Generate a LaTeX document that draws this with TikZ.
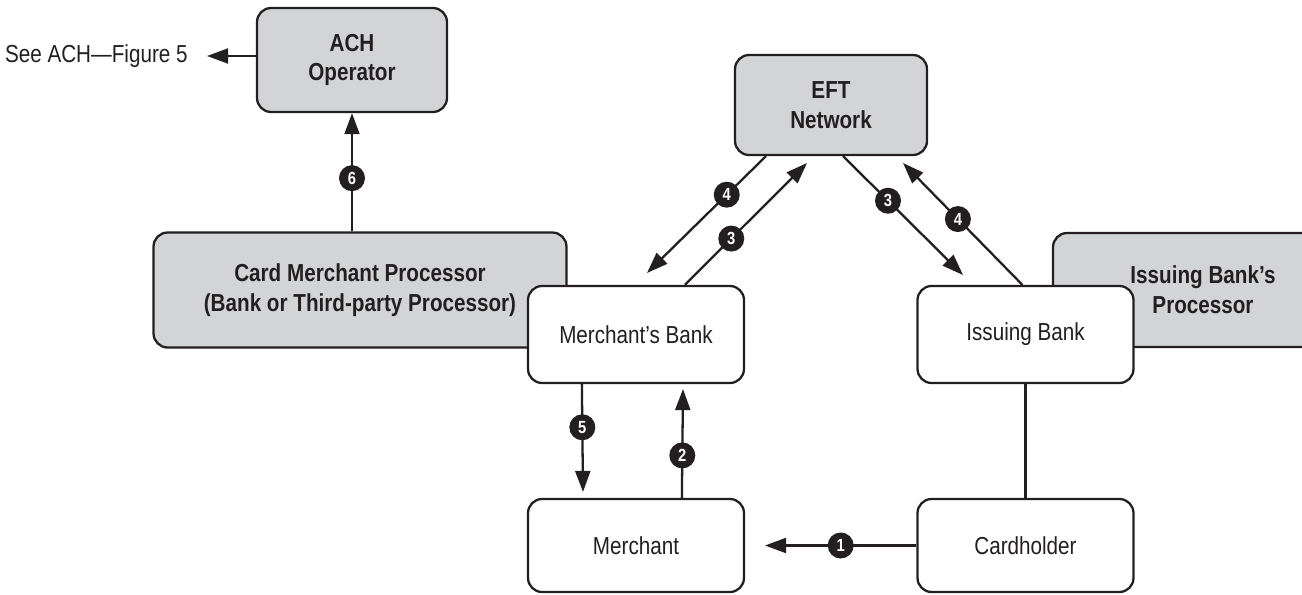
\documentclass[tikz,border=0pt]{standalone}
\usepackage{fontspec}
\setmainfont{Liberation Sans}[FakeStretch=0.84]
\usetikzlibrary{positioning,arrows.meta,calc}
\definecolor{cBox}{HTML}{D3D4D6}
\definecolor{cInk}{HTML}{231F20}
\tikzset{
  base/.style  ={rounded corners=8pt, draw=cInk, line width=1.3pt, align=center,
                 text=cInk, font=\fontsize{14}{17}\selectfont, inner sep=4pt},
  gnode/.style ={base, fill=cBox, font=\fontsize{14}{17}\selectfont\bfseries},
  wnode/.style ={base, fill=white, minimum width=4.32cm},
  badge/.style ={circle, fill=cInk, text=white, inner sep=0pt, minimum size=5.2mm,
                 font=\fontsize{10}{10}\selectfont\bfseries},
  arr/.style   ={-{Triangle[length=12pt,width=8.5pt]}, line width=1.3pt, draw=cInk},
  link/.style  ={line width=1.3pt, draw=cInk},
}

\begin{document}
\begin{tikzpicture}[x=0.02cm, y=-0.02cm]
\useasboundingbox (0,0) rectangle (1302,595);
\clip (0,0) rectangle (1302,595);

% shaded processors and networks
\node[gnode, minimum width=8.26cm, minimum height=2.3cm] (cmp) at (360,290)
   {Card Merchant Processor\\(Bank or Third-party Processor)};
\node[gnode, minimum width=6cm, minimum height=2.28cm] (ibp) at (1203,290)
   {Issuing Bank’s\\Processor};
\node[gnode, minimum width=3.8cm, minimum height=2.08cm] (ach) at (352,60) {ACH\\Operator};
\node[gnode, minimum width=3.84cm, minimum height=2cm] (eft) at (831,105) {EFT\\Network};

% banks and parties
\node[wnode, minimum height=1.94cm] (mb) at (636,334.5) {Merchant’s Bank};
\node[wnode, minimum height=1.94cm] (ib) at (1025.5,334.5) {Issuing Bank};
\node[wnode, minimum height=1.86cm] (mer) at (636,545.5) {Merchant};
\node[wnode, minimum height=1.86cm] (ch) at (1025.5,545.5) {Cardholder};
\node[anchor=east, text=cInk, font=\fontsize{14}{17}\selectfont, inner sep=0pt] (see)
   at (188,56) {See ACH—Figure 5};

% free arrow ends
\coordinate (seeTip) at (207,56);
\coordinate (mb4) at (647,273);
\coordinate (eft3) at (807,163);
\coordinate (ib3) at (963,275);
\coordinate (eft4) at (903,163);
\coordinate (mer5) at (583,492);
\coordinate (mb2) at (683,389);
\coordinate (mer1) at (765,545.5);

\draw[arr] (ach.west |- seeTip) -- (seeTip);
\draw[arr] (ach.south |- cmp.north) -- node[badge, pos=.45]{6} (ach.south);
\draw[arr] ($(eft.south)+(-65,0)$) -- node[badge, pos=.33]{4} (mb4);
\draw[arr] ($(mb.north west)+(158,0)$) -- node[badge, pos=.38]{3} (eft3);
\draw[arr] ($(eft.south)+(12,0)$) -- node[badge, pos=.375]{3} (ib3);
\draw[arr] ($(ib.north west)+(106,0)$) -- node[badge, pos=.54]{4} (eft4);
\draw[arr] ($(mb.south west)+(55,0)$) -- node[badge, pos=.4]{5} (mer5);
\draw[arr] ($(mer.north west)+(155,0)$) -- node[badge, pos=.39]{2} (mb2);
\draw[arr] (ch.west) -- node[badge, pos=.5]{1} (mer1);
\draw[link] (ib.south) -- (ch.north);
\end{tikzpicture}
\end{document}
